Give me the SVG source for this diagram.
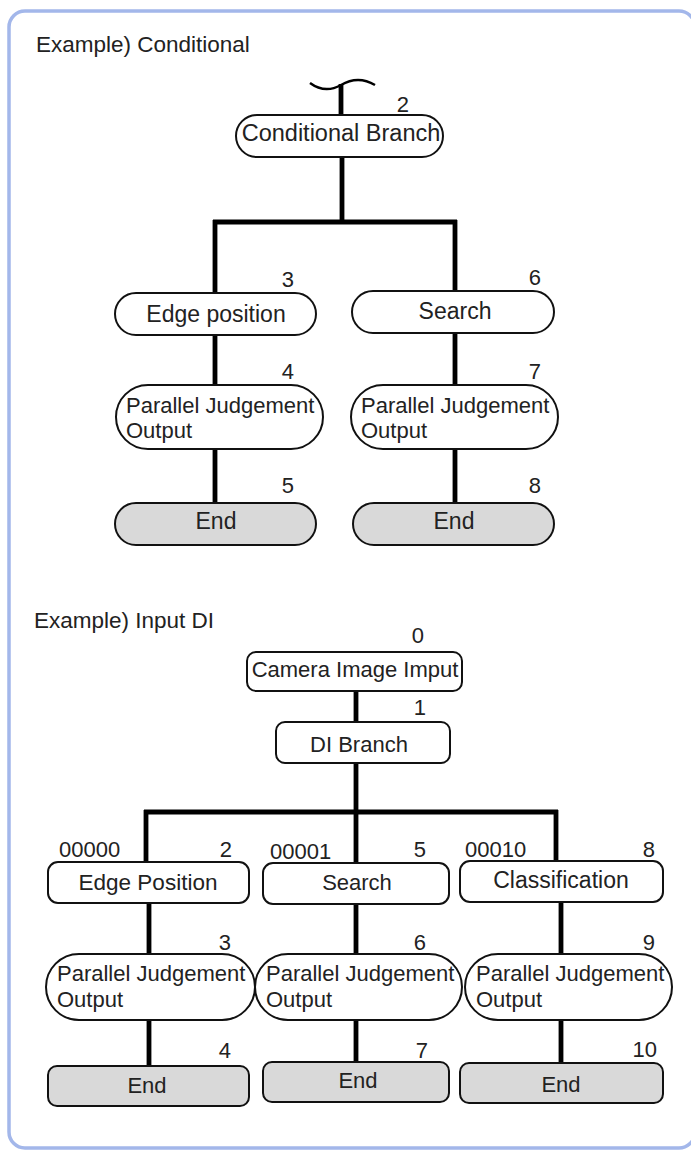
<svg xmlns="http://www.w3.org/2000/svg" width="691" height="1153" viewBox="0 0 691 1153">
<style>
.t{font-family:"Liberation Sans",Arial,sans-serif;font-size:22px;fill:#222}
.b{font-size:23px}
.ttl{font-family:"Liberation Sans",Arial,sans-serif;font-size:22.5px;fill:#222}
.c{text-anchor:middle}
.e{text-anchor:end}
.n{fill:#fff;stroke:#111;stroke-width:2}
.g{fill:#d9d9d9;stroke:#111;stroke-width:2}
.ln{stroke:#000;stroke-width:4.8;fill:none;stroke-linecap:butt}
</style>
<rect x="9" y="11" width="686" height="1137" rx="16" fill="#fff" stroke="#a3b7ea" stroke-width="3.5"/>
<text class="ttl" x="36" y="52">Example) Conditional</text>
<text class="ttl" x="34" y="628">Example) Input DI</text>
<g id="connectors">
<path d="M310,83 Q325,94 341,85 Q358,75 375,85" fill="none" stroke="#000" stroke-width="2.5"/>
<path class="ln" d="M341,84 V116"/>
<path class="ln" d="M342,157 V222 M213,222 H457 M215,220 V293 M455,220 V291"/>
<path class="ln" d="M215,335 V385 M215,449 V503 M455,333 V385 M455,449 V503"/>
<path class="ln" d="M356,691 V722 M356,763 V812 M144,812 H558 M146,810 V862 M356,810 V863 M556,810 V861"/>
<path class="ln" d="M149,903 V954 M356,904 V954 M561,902 V954 M149,1020 V1066 M356,1020 V1062 M561,1020 V1063"/>
</g>
<g id="n2"><rect class="n" x="236" y="115" width="207" height="42" rx="21"/><text class="t c" x="341" y="141" style="font-size:23.5px">Conditional Branch</text><text class="t e" x="409" y="112">2</text></g>
<g id="n3"><rect class="n" x="115" y="293" width="201" height="42" rx="21"/><text class="t b c" x="216" y="322">Edge position</text><text class="t e" x="294" y="287">3</text></g>
<g id="n4"><rect class="n" x="116" y="385" width="207" height="64" rx="32"/><text class="t" x="126" y="413">Parallel Judgement</text><text class="t" x="126" y="438">Output</text><text class="t e" x="294" y="379">4</text></g>
<g id="n5"><rect class="g" x="115" y="503" width="201" height="42" rx="21"/><text class="t b c" x="216" y="529">End</text><text class="t e" x="294" y="493">5</text></g>
<g id="n6"><rect class="n" x="352" y="291" width="202" height="42" rx="21"/><text class="t b c" x="455" y="319">Search</text><text class="t e" x="541" y="285">6</text></g>
<g id="n7"><rect class="n" x="351" y="385" width="207" height="64" rx="32"/><text class="t" x="361" y="413">Parallel Judgement</text><text class="t" x="361" y="438">Output</text><text class="t e" x="541" y="379">7</text></g>
<g id="n8"><rect class="g" x="353" y="503" width="201" height="42" rx="21"/><text class="t b c" x="454" y="529">End</text><text class="t e" x="541" y="493">8</text></g>
<g id="d0"><rect class="n" x="247" y="652" width="215" height="39" rx="9"/><text class="t c" x="355" y="677">Camera Image Imput</text><text class="t e" x="424" y="643">0</text></g>
<g id="d1"><rect class="n" x="276" y="722" width="174" height="41" rx="9"/><text class="t c" x="359" y="752">DI Branch</text><text class="t e" x="426" y="715">1</text></g>
<g id="d2"><rect class="n" x="48" y="862" width="201" height="41" rx="10"/><text class="t c" x="148" y="890" style="font-size:22.5px">Edge Position</text><text class="t" x="59" y="857">00000</text><text class="t e" x="232" y="857">2</text></g>
<g id="d3"><rect class="n" x="46" y="954" width="209" height="66" rx="33"/><text class="t" x="57" y="981">Parallel Judgement</text><text class="t" x="57" y="1007">Output</text><text class="t e" x="231" y="950">3</text></g>
<g id="d4"><rect class="g" x="48" y="1066" width="201" height="40" rx="9"/><text class="t c" x="147" y="1093">End</text><text class="t e" x="231" y="1058">4</text></g>
<g id="d5"><rect class="n" x="263" y="863" width="186" height="41" rx="10"/><text class="t c" x="357" y="890">Search</text><text class="t" x="270" y="859">00001</text><text class="t e" x="426" y="857">5</text></g>
<g id="d6"><rect class="n" x="255" y="954" width="207" height="66" rx="33"/><text class="t" x="266" y="981">Parallel Judgement</text><text class="t" x="266" y="1007">Output</text><text class="t e" x="426" y="950">6</text></g>
<g id="d7"><rect class="g" x="263" y="1062" width="186" height="40" rx="9"/><text class="t c" x="358" y="1088">End</text><text class="t e" x="428" y="1058">7</text></g>
<g id="d8"><rect class="n" x="460" y="861" width="203" height="41" rx="10"/><text class="t b c" x="561" y="888">Classification</text><text class="t" x="465" y="857">00010</text><text class="t e" x="655" y="857">8</text></g>
<g id="d9"><rect class="n" x="465" y="954" width="207" height="66" rx="33"/><text class="t" x="476" y="981">Parallel Judgement</text><text class="t" x="476" y="1007">Output</text><text class="t e" x="655" y="950">9</text></g>
<g id="d10"><rect class="g" x="460" y="1063" width="203" height="40" rx="9"/><text class="t c" x="561" y="1092">End</text><text class="t e" x="657" y="1057">10</text></g>
</svg>
